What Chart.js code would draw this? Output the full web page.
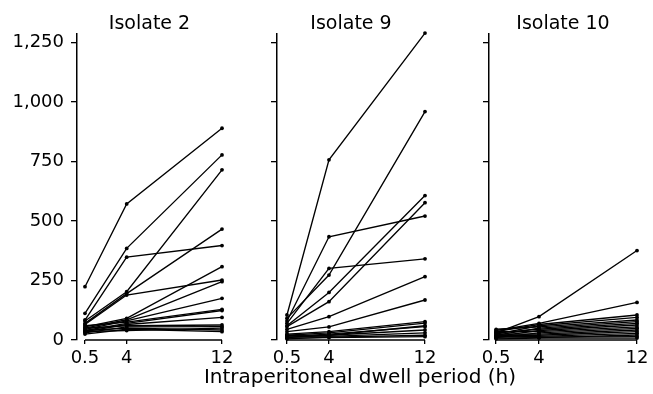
<!DOCTYPE html>
<html>
<head>
<meta charset="utf-8">
<script src="https://cdn.jsdelivr.net/npm/chart.js@4.4.1/dist/chart.umd.min.js"></script>
<style>
  body { margin: 0; background: #fff; overflow: hidden; }
  #wrap { position: relative; width: 653px; height: 394px; font-family: "DejaVu Sans"; }
  canvas { position: absolute; top: 0; }
  #xtitle { position: absolute; left: 160px; width: 400px; top: 366px; text-align: center;
            font-size: 20px; line-height: 20px; color: #000; }
</style>
</head>
<body>
<div id="wrap">
  <canvas id="c1" width="240" height="394" style="left:0px"></canvas>
  <canvas id="c2" width="205" height="394" style="left:240px"></canvas>
  <canvas id="c3" width="208" height="394" style="left:445px"></canvas>
  <div id="xtitle">Intraperitoneal dwell period (h)</div>
</div>
<script>
// dwell periods (h) and y ticks
const xValues = [0.5, 4, 12];
const yTicks = [0, 250, 500, 750, 1000, 1250];

// each row = one animal: values at 0.5, 4, 12 h
const isolate2 = [
  [224, 572, 890], [112, 385, 778], [80, 203, 715], [84, 348, 397],
  [70, 195, 466], [65, 189, 252], [55, 91, 308], [50, 85, 245],
  [45, 80, 175], [60, 75, 129], [40, 70, 124], [35, 65, 95],
  [50, 60, 63], [30, 55, 56], [40, 50, 42], [25, 45, 35], [35, 40, 50]
];
const isolate9 = [
  [105, 757, 1290], [91, 273, 960], [80, 434, 521], [70, 301, 341],
  [60, 200, 607], [56, 161, 577], [45, 98, 266], [35, 55, 168],
  [25, 35, 77], [20, 30, 71], [15, 25, 56], [10, 20, 42],
  [20, 15, 30], [8, 10, 14], [5, 12, 20], [12, 20, 60]
];
const isolate10 = [
  [30, 98, 376], [40, 70, 158], [35, 65, 105], [25, 60, 95],
  [45, 55, 84], [20, 50, 77], [30, 45, 70], [15, 40, 63],
  [35, 35, 55], [10, 30, 49], [25, 25, 42], [20, 20, 35],
  [12, 15, 28], [8, 10, 21], [15, 12, 14], [5, 8, 8]
];

const FONT = "DejaVu Sans";

// x axis line only between first and last tick (offset axis look)
const xAxisLine = {
  id: 'xAxisLine',
  afterDraw(chart) {
    const s = chart.scales.x, ctx = chart.ctx;
    ctx.save();
    ctx.strokeStyle = '#000';
    ctx.lineWidth = 1.4;
    ctx.beginPath();
    ctx.moveTo(s.getPixelForValue(xValues[0]), s.top);
    ctx.lineTo(s.getPixelForValue(xValues[xValues.length - 1]), s.top);
    ctx.stroke();
    ctx.restore();
  }
};

function panel(id, title, rows, opts) {
  new Chart(document.getElementById(id), {
    type: 'line',
    data: {
      datasets: rows.map(r => ({
        data: xValues.map((x, i) => ({ x: x, y: r[i] })),
        borderColor: '#000',
        borderWidth: 1.35,
        pointRadius: 1.9,
        pointBackgroundColor: '#000',
        pointBorderWidth: 0,
        clip: false
      }))
    },
    options: {
      responsive: false,
      animation: false,
      devicePixelRatio: 1,
      layout: { padding: { left: 0, right: opts.right, top: 0, bottom: 0 } },
      plugins: {
        legend: { display: false },
        tooltip: { enabled: false },
        title: {
          display: true, text: title, color: '#000', fullSize: false,
          font: { family: FONT, size: 19, weight: 'normal', lineHeight: 1 },
          padding: { top: 15, bottom: 0 }
        }
      },
      scales: {
        x: {
          type: 'linear', min: opts.xMin, max: 12,
          afterBuildTicks: s => { s.ticks = xValues.map(v => ({ value: v })); },
          afterFit: s => { s.height = 54; },
          border: { display: false },
          grid: { drawOnChartArea: false, drawTicks: true, tickLength: 4, color: '#000', lineWidth: 1.3 },
          ticks: { color: '#000', padding: 4, maxRotation: 0, font: { family: FONT, size: 18 },
                   callback: v => String(v) }
        },
        y: {
          min: 0, max: 1286,
          afterBuildTicks: s => { s.ticks = yTicks.map(v => ({ value: v })); },
          afterFit: s => { s.width = opts.yWidth; },
          border: { display: true, color: '#000', width: 1.5 },
          grid: { drawOnChartArea: false, drawTicks: true, tickLength: 6, color: '#000', lineWidth: 1.3 },
          ticks: { display: opts.labels, color: '#000', padding: 7, font: { family: FONT, size: 18 } }
        }
      }
    },
    plugins: [xAxisLine]
  });
}

panel('c1', 'Isolate 2', isolate2, { xMin: -0.17, yWidth: 77, right: 18, labels: true });
panel('c2', 'Isolate 9', isolate9, { xMin: -0.33, yWidth: 37, right: 20, labels: false });
panel('c3', 'Isolate 10', isolate10, { xMin: -0.08, yWidth: 44, right: 16, labels: false });
</script>
</body>
</html>
